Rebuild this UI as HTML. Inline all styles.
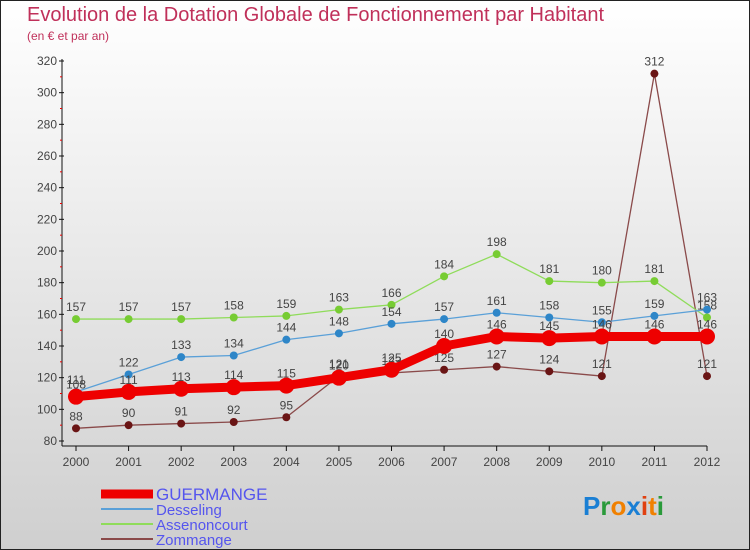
<!DOCTYPE html>
<html><head><meta charset="utf-8"><style>
html,body{margin:0;padding:0}
#wrap{position:relative;width:748px;height:548px;border:1px solid #222;background:linear-gradient(#ffffff,#cfcfcf);overflow:hidden;font-family:"Liberation Sans",sans-serif}
#title{position:absolute;left:26px;top:3px;font-size:20px;color:#c0305a;white-space:nowrap}
#sub{position:absolute;left:26px;top:28px;font-size:12px;color:#c0305a}
svg{position:absolute;left:0;top:0}
</style></head><body>
<div id="wrap">
<div id="title">Evolution de la Dotation Globale de Fonctionnement par Habitant</div>
<div id="sub">(en € et par an)</div>
<svg id="svg" width="750" height="550"></svg>
</div>
<script>
const years=[2000,2001,2002,2003,2004,2005,2006,2007,2008,2009,2010,2011,2012];
const guermange=[108,111,113,114,115,120,125,140,146,145,146,146,146];
const desseling=[111,122,133,134,144,148,154,157,161,158,155,159,163];
const assenoncourt=[157,157,157,158,159,163,166,184,198,181,180,181,158];
const zommange=[88,90,91,92,95,121,123,125,127,124,121,312,121];
const yTicks=[80,100,120,140,160,180,200,220,240,260,280,300,320];
const seriesNames=["GUERMANGE","Desseling","Assenoncourt","Zommange"];

const NS="http://www.w3.org/2000/svg";
const svg=document.getElementById('svg');
const X=i=>75+i*(706-75)/(years.length-1);
const Y=v=>440-(v-80)*(380/240);
function mk(t,a,p){const e=document.createElementNS(NS,t);for(const k in a)e.setAttribute(k,a[k]);(p||svg).appendChild(e);return e;}

// axes
const ya=mk('line',{x1:61,y1:58,x2:61,y2:445,stroke:'#111','stroke-width':1});


const xa=mk('line',{x1:61,y1:445,x2:706,y2:445,stroke:'#111','stroke-width':1});


yTicks.forEach(v=>{
  mk('line',{x1:58,y1:Y(v),x2:63,y2:Y(v),stroke:'#111'});
  if(v<320)mk('line',{x1:59,y1:Y(v+10),x2:61,y2:Y(v+10),stroke:'#e00'});
  const t=mk('text',{x:56,y:Y(v)+4,'text-anchor':'end','font-size':12,fill:'#444'});
  t.textContent=v;
  
  
});
years.forEach((yr,i)=>{
  mk('line',{x1:X(i),y1:445,x2:X(i),y2:450,stroke:'#111'});
  const t=mk('text',{x:X(i),y:465,'text-anchor':'middle','font-size':12,fill:'#444'});
  t.textContent=yr;
  
  
});

function series(data,color,dot,w,r,name){
  const g=mk('g',{});
  
  
  mk('polyline',{points:data.map((v,i)=>X(i)+','+Y(v)).join(' '),fill:'none',stroke:color,'stroke-width':w,'stroke-linejoin':'round'},g);
  data.forEach((v,i)=>{
    const c=mk('circle',{cx:X(i),cy:Y(v),r:r,fill:dot},g);
    
    
    const t=mk('text',{x:X(i),y:Y(v)-8,'text-anchor':'middle','font-size':12,fill:'#444'},g);
    t.textContent=v;
    
    
  });
}
series(zommange,'#8a4a4a','#6a1515',1.3,4,'zommange');
series(assenoncourt,'#8fdc5a','#77cc33',1.3,4,'assenoncourt');
series(desseling,'#5aa0d8','#2e86c8',1.3,4,'desseling');
series(guermange,'#ee0000','#ee0000',9,8,'guermange');

// legend
const lc=[['#ee0000',9],['#5aa0d8',2],['#8fdc5a',2],['#8a4a4a',2]];
seriesNames.forEach((n,i)=>{
  const y=493+i*15;
  const g=mk('g',{});
  
  
  mk('line',{x1:100,y1:y,x2:152,y2:y,stroke:lc[i][0],'stroke-width':lc[i][1]},g);
  const t=mk('text',{x:155,y:y+6,'font-size':i==0?17:15,fill:'#5555ee'},g);
  t.textContent=n;
});
// logo
const lg=mk('text',{x:582,y:514,'font-size':26,'font-weight':'bold'});


[['P','#1a7fd4'],['r','#2a9a3a'],['o','#f08000'],['x','#1a7fd4'],['i','#e04010'],['t','#f08000'],['i','#2a9a3a']].forEach(([c,col])=>{const s=mk('tspan',{fill:col},lg);s.textContent=c;});
</script>
</body></html>
